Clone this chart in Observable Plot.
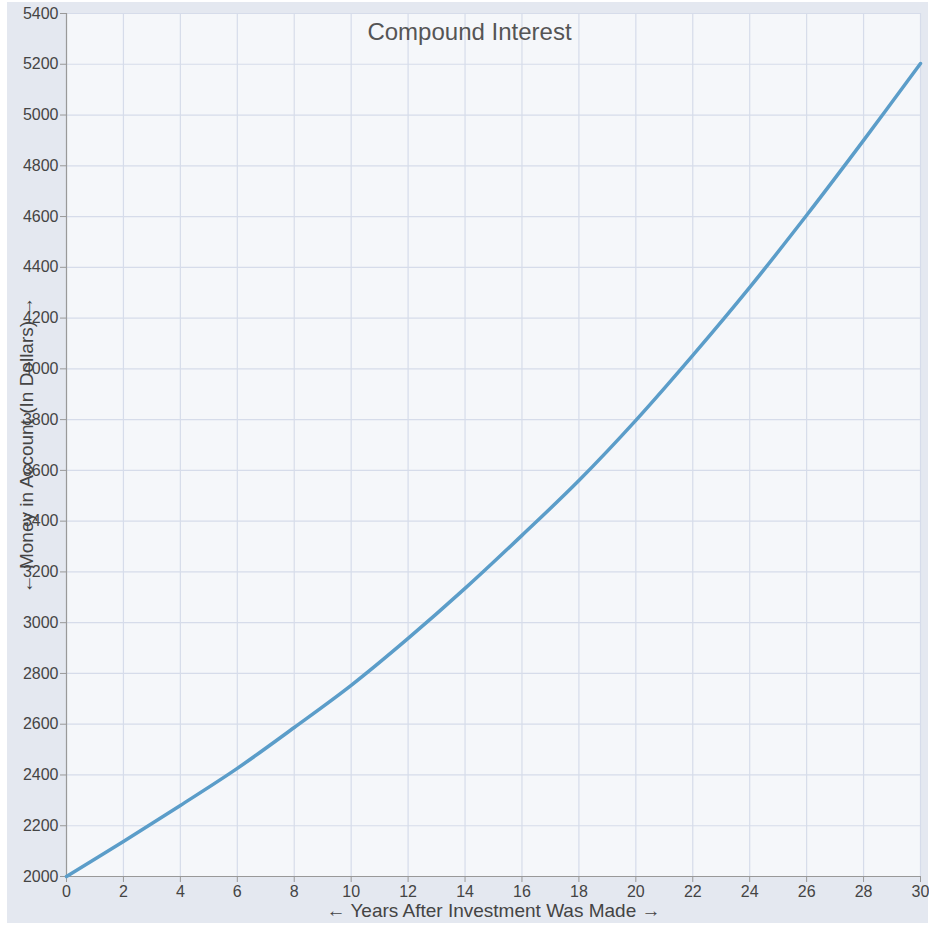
<!DOCTYPE html>
<html>
<head>
<meta charset="utf-8">
<script src="https://cdn.jsdelivr.net/npm/d3@7"></script>
<script src="https://cdn.jsdelivr.net/npm/@observablehq/plot@0.6"></script>
<style>
  html, body { margin: 0; padding: 0; background: #ffffff; }
  #wrap { position: relative; width: 929px; height: 925px; }
  #bg { position: absolute; left: 7px; top: 2px; width: 921px; height: 921px; background: #e4e8f0; }
  #chart { position: absolute; left: 0; top: 0; }
</style>
</head>
<body>
<div id="wrap"><div id="bg"></div><div id="chart"></div></div>
<script>
const years = [0, 2, 4, 6, 8, 10, 12, 14, 16, 18, 20, 22, 24, 26, 28, 30];
const money = [2000, 2138, 2280, 2426, 2587, 2753, 2938, 3135, 3344, 3560, 3797, 4053, 4321, 4605, 4900, 5203];
const xTicks = [0, 2, 4, 6, 8, 10, 12, 14, 16, 18, 20, 22, 24, 26, 28, 30];
const yTicks = [2000, 2200, 2400, 2600, 2800, 3000, 3200, 3400, 3600, 3800, 4000, 4200, 4400, 4600, 4800, 5000, 5200, 5400];
const title = "Compound Interest";
const xLabel = "← Years After Investment Was Made →";
const yLabel = "← Money in Account (In Dollars) →";

const data = years.map((t, i) => ({year: t, money: money[i]}));

const chart = Plot.plot({
  width: 929,
  height: 925,
  marginLeft: 66,
  marginRight: 9,
  marginTop: 13,
  marginBottom: 49,
  style: {background: "transparent", fontFamily: "'Liberation Sans', Arial, sans-serif", fontSize: "16px", color: "#444"},
  x: {domain: [0, 30]},
  y: {domain: [2000, 5400]},
  marks: [
    Plot.frame({fill: "#f5f7fa", stroke: null}),
    Plot.gridX(xTicks, {stroke: "#d6dcea", strokeOpacity: 1, strokeWidth: 1.2}),
    Plot.gridY(yTicks, {stroke: "#d6dcea", strokeOpacity: 1, strokeWidth: 1.2}),
    Plot.axisX(xTicks, {tickSize: 6, tickPadding: 3, stroke: "#999", fill: "#444", fontSize: 16, tickFormat: "d", label: null}),
    Plot.axisY(yTicks, {tickSize: 6, tickPadding: 2, stroke: "#999", fill: "#444", fontSize: 16, tickFormat: "d", label: null}),
    Plot.ruleX([0], {stroke: "#999", strokeWidth: 1.2}),
    Plot.ruleY([2000], {stroke: "#999", strokeWidth: 1.2}),
    Plot.line(data, {x: "year", y: "money", stroke: "#5b9dc9", strokeWidth: 3.5, curve: "catmull-rom"}),
    Plot.text([title], {frameAnchor: "top", dx: -24, dy: 9, fontSize: 24, fill: "#555", text: d => d}),
    Plot.text([xLabel], {frameAnchor: "bottom", dy: 40, fontSize: 19, fill: "#444", text: d => d}),
    Plot.text([yLabel], {frameAnchor: "left", textAnchor: "middle", dx: -40, rotate: -90, fontSize: 19, fill: "#444", text: d => d})
  ]
});
document.getElementById("chart").appendChild(chart);
</script>
</body>
</html>
